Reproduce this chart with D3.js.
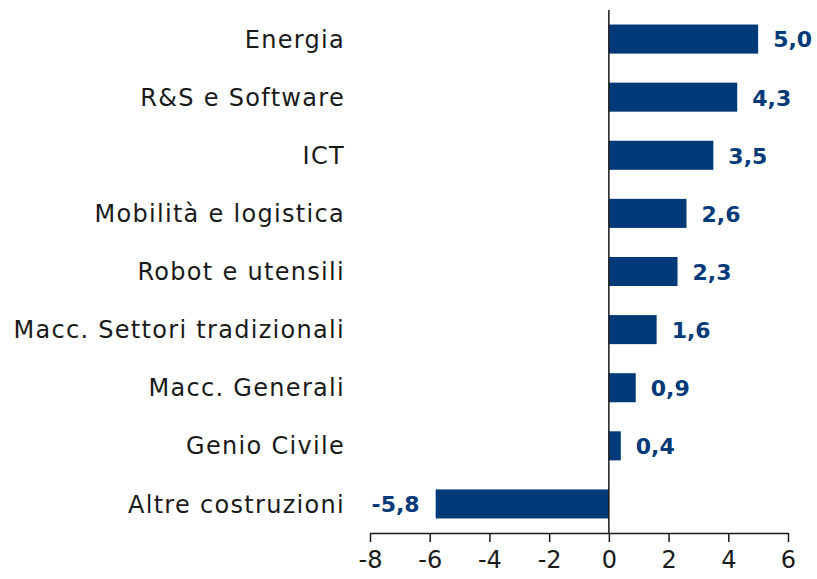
<!DOCTYPE html>
<html>
<head>
<meta charset="utf-8">
<script src="https://cdn.jsdelivr.net/npm/d3@7"></script>
<style>
  body { margin: 0; background: #fff; }
  text { font-family: "DejaVu Sans", sans-serif; }
  .cat { fill: #1a1a1a; font-size: 24px; letter-spacing: 1.3px; }
  .val { fill: #003a78; font-size: 22px; font-weight: bold; }
  .axis text { fill: #1a1a1a; font-size: 24px; }
  .axis path, .axis line { stroke: #1a1a1a; stroke-width: 1.5px; }
</style>
</head>
<body>
<div id="vis"></div>
<script>
var categories = ['Energia', 'R&S e Software', 'ICT', 'Mobilità e logistica', 'Robot e utensili',
    'Macc. Settori tradizionali', 'Macc. Generali', 'Genio Civile', 'Altre costruzioni'];
var values = [5.0, 4.3, 3.5, 2.6, 2.3, 1.6, 0.9, 0.4, -5.8];
var ticks = [-8, -6, -4, -2, 0, 2, 4, 6];

var width = 817, height = 579;
var margin = { left: 370, right: 29, top: 10, bottom: 46 };
var drawHeight = height - margin.top - margin.bottom;

var svg = d3.select('#vis').append('svg')
    .attr('width', width)
    .attr('height', height);

var xScale = d3.scaleLinear()
    .domain([-8, 6])
    .range([margin.left, width - margin.right]);

var yScale = d3.scaleBand()
    .domain(categories)
    .range([margin.top, margin.top + drawHeight])
    .paddingInner(0.5)
    .paddingOuter(0.25);

var data = categories.map(function(c, i) { return { name: c, value: values[i] }; });

// bars
svg.selectAll('rect.bar').data(data).enter().append('rect')
    .attr('class', 'bar')
    .attr('x', function(d) { return xScale(Math.min(0, d.value)); })
    .attr('y', function(d) { return yScale(d.name); })
    .attr('width', function(d) { return Math.abs(xScale(d.value) - xScale(0)); })
    .attr('height', yScale.bandwidth())
    .attr('fill', '#003a78');

// value labels (comma decimal, plain hyphen for negatives)
var fmt = function(v) { return v.toFixed(1).replace('.', ','); };
svg.selectAll('text.val').data(data).enter().append('text')
    .attr('class', 'val')
    .attr('x', function(d) { return d.value >= 0 ? xScale(d.value) + 15 : xScale(d.value) - 16; })
    .attr('y', function(d) { return yScale(d.name) + yScale.bandwidth() / 2; })
    .attr('dy', '0.38em')
    .attr('text-anchor', function(d) { return d.value >= 0 ? 'start' : 'end'; })
    .text(function(d) { return fmt(d.value); });

// category labels
svg.selectAll('text.cat').data(data).enter().append('text')
    .attr('class', 'cat')
    .attr('x', 345)
    .attr('y', function(d) { return yScale(d.name) + yScale.bandwidth() / 2; })
    .attr('dy', '0.36em')
    .attr('text-anchor', 'end')
    .text(function(d) { return d.name; });

// zero line
svg.append('line')
    .attr('x1', xScale(0)).attr('x2', xScale(0))
    .attr('y1', margin.top).attr('y2', margin.top + drawHeight)
    .attr('stroke', '#1a1a1a')
    .attr('stroke-width', 1.5);

// x axis
var xAxis = d3.axisBottom(xScale)
    .tickValues(ticks)
    .tickSize(9)
    .tickSizeOuter(0)
    .tickPadding(9)
    .tickFormat(function(d) { return String(d); });

svg.append('g')
    .attr('class', 'axis')
    .attr('transform', 'translate(0,' + (margin.top + drawHeight) + ')')
    .call(xAxis);
</script>
</body>
</html>
